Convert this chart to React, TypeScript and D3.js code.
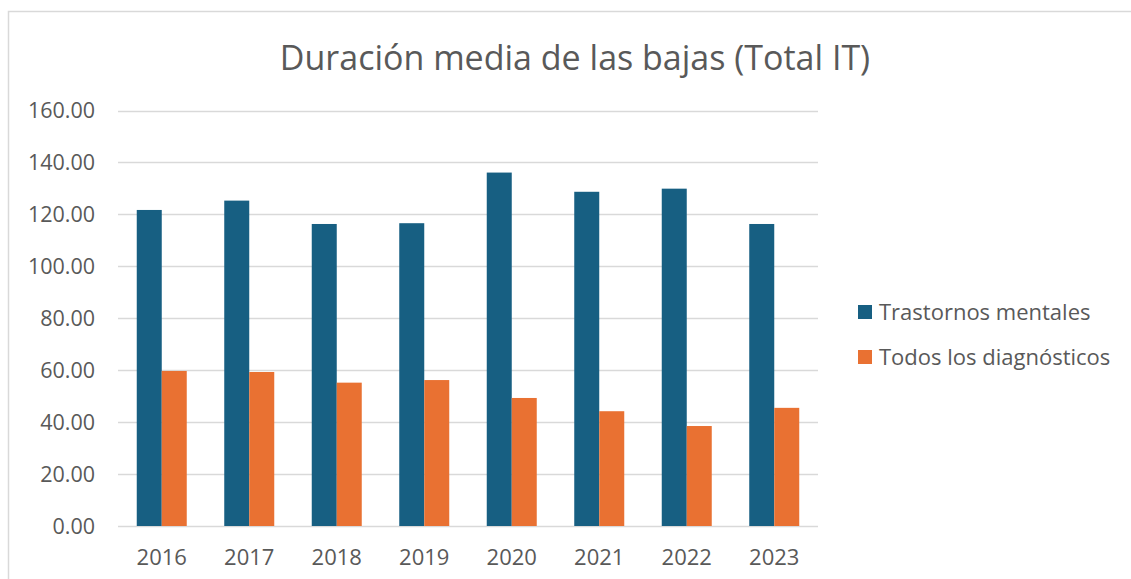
import React from 'react';
import * as d3 from 'd3';

const years = ['2016', '2017', '2018', '2019', '2020', '2021', '2022', '2023'];
const mentales = [121.7, 125.3, 116.3, 116.6, 136.1, 128.7, 129.9, 116.3];
const todos = [59.7, 59.3, 55.2, 56.2, 49.3, 44.2, 38.5, 45.5];
const seriesNames = ['Trastornos mentales', 'Todos los diagnósticos'];
const yTicks = [0, 20, 40, 60, 80, 100, 120, 140, 160];

const W = 1131;
const H = 579;
const FONT = "'Open Sans', 'Noto Sans', sans-serif";
const colors = ['#175f82', '#e97132'];
const textColor = '#595959';

export default function App() {
  const left = 118, right = 818, top = 110.5, bottom = 526;

  const x = d3.scaleBand<string>().domain(years).range([left, right]).paddingInner(0.4286).paddingOuter(0.2143);
  const inner = d3.scaleBand<string>().domain(seriesNames).range([0, x.bandwidth()]);
  const y = d3.scaleLinear().domain([0, 160]).range([bottom, top]);

  const series = [mentales, todos];

  return (
    <svg width={W} height={H} style={{ position: 'absolute', left: 0, top: 0, background: '#fff' }}>
      <rect x={8.5} y={11.5} width={W + 10} height={H + 10} fill="#fff" stroke="#d9d9d9" strokeWidth={1.5} />
      <text x={575} y={70} textAnchor="middle" fontFamily={FONT} fontSize={34} fill={textColor}>
        Duración media de las bajas (Total IT)
      </text>

      {yTicks.map(t => (
        <g key={t}>
          <line x1={left} x2={right} y1={Math.round(y(t)) + 0.5} y2={Math.round(y(t)) + 0.5} stroke="#d9d9d9" strokeWidth={1.5} />
          <text x={95} y={y(t)} dy="0.35em" textAnchor="end" fontFamily={FONT} fontSize={21.5} fill={textColor}>
            {t.toFixed(2)}
          </text>
        </g>
      ))}

      {years.map((yr, i) => (
        <g key={yr} transform={`translate(${x(yr)},0)`}>
          {series.map((s, j) => (
            <rect
              key={j}
              x={inner(seriesNames[j])}
              y={y(s[i])}
              width={inner.bandwidth()}
              height={y(0) - y(s[i])}
              fill={colors[j]}
            />
          ))}
          <text x={x.bandwidth() / 2} y={557} dy="0.35em" textAnchor="middle" fontFamily={FONT} fontSize={22} fill={textColor}>
            {yr}
          </text>
        </g>
      ))}

      {seriesNames.map((name, j) => (
        <g key={name} transform={`translate(858,${312 + j * 45})`}>
          <rect x={0} y={-7} width={14} height={14} fill={colors[j]} />
          <text x={21} y={0} dy="0.35em" fontFamily={FONT} fontSize={22} fill={textColor}>
            {name}
          </text>
        </g>
      ))}
    </svg>
  );
}
